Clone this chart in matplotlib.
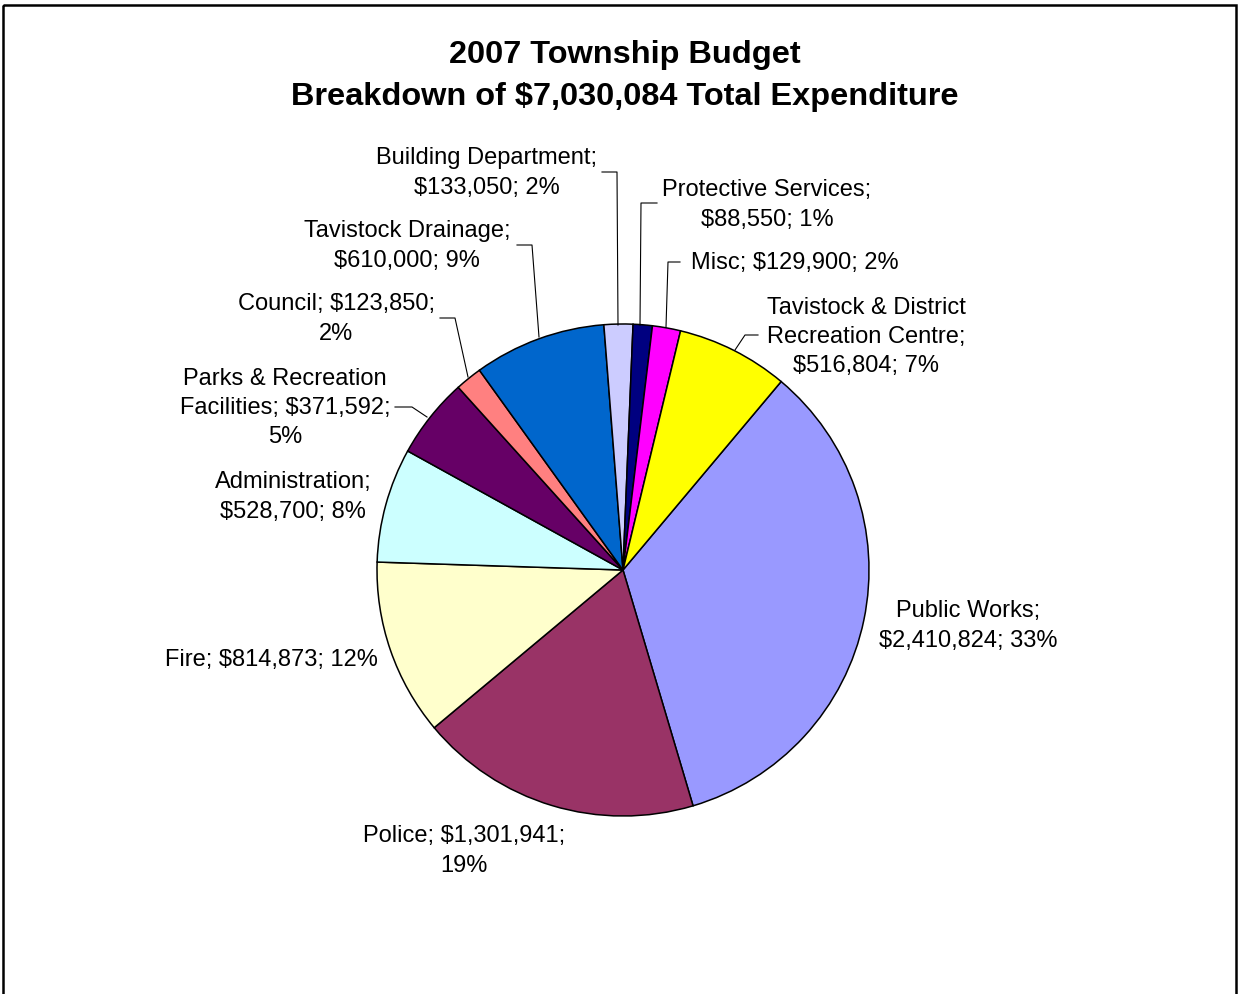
import matplotlib
matplotlib.use("Agg")
import matplotlib.pyplot as plt
from matplotlib.patches import Rectangle

plt.rcParams['font.family'] = ['Liberation Sans', 'DejaVu Sans']

# data in Excel series order (first slice = Public Works)
categories = ['Public Works', 'Police', 'Fire', 'Administration',
              'Parks & Recreation Facilities', 'Council', 'Tavistock Drainage',
              'Building Department', 'Protective Services', 'Misc',
              'Tavistock & District Recreation Centre']
amounts = [2410824, 1301941, 814873, 528700, 371592, 123850, 610000,
           133050, 88550, 129900, 516804]
label_texts = [
    'Public Works;\n$2,410,824; 33%',
    'Police; $1,301,941;\n19%',
    'Fire; $814,873; 12%',
    'Administration;\n$528,700; 8%',
    'Parks & Recreation\nFacilities; $371,592;\n5%',
    'Council; $123,850;\n2%',
    'Tavistock Drainage;\n$610,000; 9%',
    'Building Department;\n$133,050; 2%',
    'Protective Services;\n$88,550; 1%',
    'Misc; $129,900; 2%',
    'Tavistock & District\nRecreation Centre;\n$516,804; 7%',
]
colors = ['#9999FF', '#993366', '#FFFFCC', '#CCFFFF', '#660066', '#FF8080',
          '#0066CC', '#CCCCFF', '#000080', '#FF00FF', '#FFFF00']

title = '2007 Township Budget\nBreakdown of $7,030,084 Total Expenditure'

# label placement (pixel layout) and leader lines
label_pos = [(968, 626), (464, 851), (271, 660), (293, 497), (285, 408),
             (336, 319), (407, 246), (487, 173), (767, 205), (795, 263),
             (866, 337)]
leaders = {
    4: [(395, 407), (412, 407), (427, 417)],
    5: [(440, 318), (455, 318), (468, 377)],
    6: [(517, 245), (532, 245), (539, 337)],
    7: [(602, 172), (617, 172), (618, 325)],
    8: [(657, 203), (641, 203), (640, 325)],
    9: [(680, 262), (668, 262), (666, 327)],
    10: [(758, 335), (745, 335), (735, 350)],
}

W, H = 1238, 994
fig = plt.figure(figsize=(W / 100, H / 100), dpi=100)
ax = fig.add_axes([0, 0, 1, 1])

ax.pie(amounts, colors=colors, startangle=-50, counterclock=True,
       center=(623, 570), radius=246,
       wedgeprops=dict(edgecolor='black', linewidth=1.1))
ax.set_xlim(0, W)
ax.set_ylim(H, 0)
ax.set_aspect('auto')
ax.axis('off')

for txt, (x, y) in zip(label_texts, label_pos):
    ax.text(x, y, txt, ha='center', va='center', fontsize=17,
            linespacing=1.42, color='black')

for pts in leaders.values():
    xs, ys = zip(*pts)
    ax.plot(xs, ys, color='black', lw=0.8)

ax.text(625, 76, title, ha='center', va='center', fontsize=23.4,
        fontweight='bold', linespacing=1.53)

# chart area border
ax.add_patch(Rectangle((3, 5), 1233, 1000, fill=False, edgecolor='black',
                       linewidth=1.8, clip_on=False))

fig.savefig('out.png', dpi=100)
